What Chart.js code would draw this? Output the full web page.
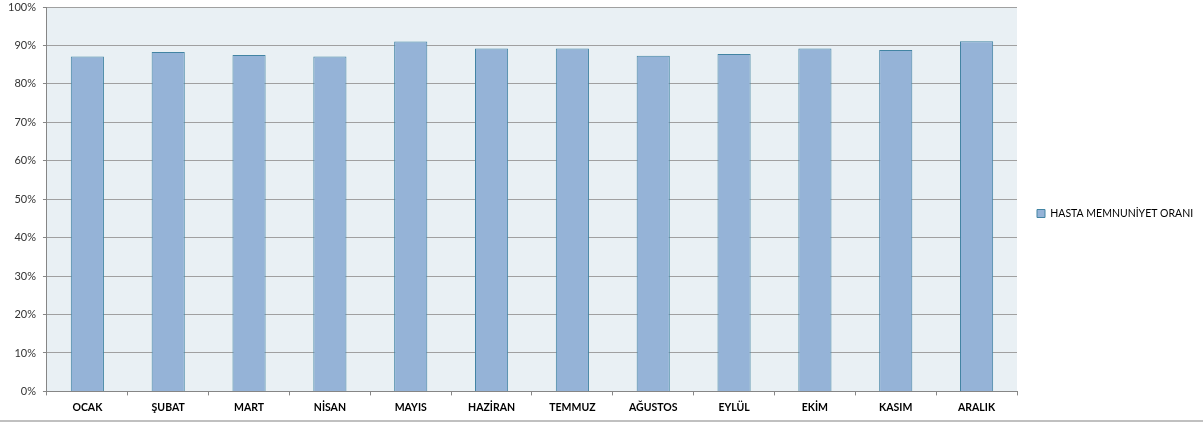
<!DOCTYPE html>
<html>
<head>
<meta charset="utf-8">
<script src="https://cdn.jsdelivr.net/npm/chart.js@4/dist/chart.umd.min.js"></script>
<style>
  html, body { margin: 0; padding: 0; background: #fff; }
  #wrap { position: relative; width: 1203px; height: 420px; border-bottom: 2px solid #c0c0c0; }
</style>
</head>
<body>
<div id="wrap"><canvas id="chart"></canvas></div>
<script>
// Monthly values (percent)
const months = ['OCAK', 'ŞUBAT', 'MART', 'NİSAN', 'MAYIS', 'HAZİRAN', 'TEMMUZ', 'AĞUSTOS', 'EYLÜL', 'EKİM', 'KASIM', 'ARALIK']
const satisfaction = [87.1, 88.3, 87.5, 87.1, 91.0, 89.2, 89.2, 87.3, 87.8, 89.2, 88.8, 91.1]
const seriesName = 'HASTA MEMNUNİYET ORANI'

const fontFamily = 'Lato, "Open Sans", sans-serif'

// Fill the plot area with the light blue-grey background
const plotBackground = {
  id: 'plotBackground',
  beforeDraw(chart) {
    const { ctx, chartArea } = chart
    ctx.save()
    ctx.fillStyle = '#e9f0f4'
    ctx.fillRect(chartArea.left, chartArea.top, chartArea.right - chartArea.left, chartArea.bottom - chartArea.top)
    ctx.restore()
  }
}

new Chart(document.getElementById('chart').getContext('2d'), {
  type: 'bar',
  data: {
    labels: months,
    datasets: [
      {
        label: seriesName,
        data: satisfaction,
        backgroundColor: '#95b3d7',
        borderColor: '#4284a3',
        borderWidth: 1,
        categoryPercentage: 1,
        barPercentage: 0.41
      }
    ]
  },
  options: {
    responsive: true,
    maintainAspectRatio: false,
    animation: false,
    layout: {
      padding: { left: 1, right: 0, top: 7, bottom: 0 }
    },
    scales: {
      x: {
        grid: {
          drawOnChartArea: false,
          drawTicks: true,
          tickLength: 4,
          color: '#868686',
          offset: true
        },
        border: { color: '#868686' },
        ticks: {
          color: '#000',
          padding: 6,
          font: { family: fontFamily, size: 10.5, weight: 'bold' }
        }
      },
      y: {
        min: 0,
        max: 100,
        // the top label may stick out above the plot, as in the original
        afterFit: (scale) => {
          scale.paddingTop = 0
        },
        ticks: {
          stepSize: 10,
          color: '#333',
          padding: 7,
          font: { family: fontFamily, size: 11 },
          callback: (v) => v + '%'
        },
        grid: {
          color: '#a0a0a0',
          lineWidth: 1,
          tickLength: 4,
          tickColor: '#868686'
        },
        border: { color: '#868686' }
      }
    },
    plugins: {
      legend: {
        position: 'right',
        maxWidth: 186,
        labels: {
          boxWidth: 8,
          boxHeight: 8,
          padding: 20,
          color: '#000',
          font: { family: fontFamily, size: 10.5 }
        }
      },
      tooltip: { enabled: false }
    }
  },
  plugins: [plotBackground]
})
</script>
</body>
</html>
